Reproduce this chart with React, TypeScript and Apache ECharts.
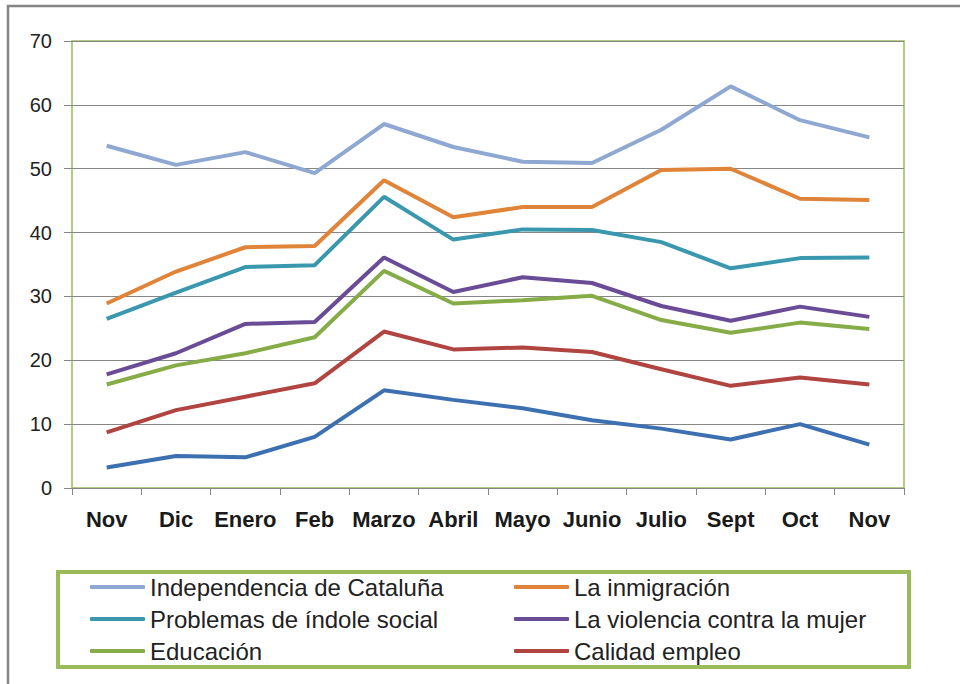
import React, { useEffect, useRef } from "react";
import * as echarts from "echarts";

const months = ["Nov", "Dic", "Enero", "Feb", "Marzo", "Abril", "Mayo", "Junio", "Julio", "Sept", "Oct", "Nov"];

const independencia = [53.6, 50.6, 52.6, 49.3, 57.0, 53.4, 51.1, 50.9, 56.1, 62.9, 57.6, 54.9];
const inmigracion = [28.9, 33.9, 37.7, 37.9, 48.2, 42.4, 44.0, 44.0, 49.8, 50.0, 45.3, 45.1];
const problemas = [26.5, 30.6, 34.6, 34.9, 45.6, 38.9, 40.5, 40.4, 38.5, 34.4, 36.0, 36.1];
const violencia = [17.8, 21.1, 25.7, 26.0, 36.1, 30.7, 33.0, 32.1, 28.5, 26.2, 28.4, 26.8];
const educacion = [16.2, 19.2, 21.1, 23.6, 34.0, 28.9, 29.4, 30.1, 26.3, 24.3, 25.9, 24.9];
const calidad = [8.7, 12.2, 14.3, 16.4, 24.5, 21.7, 22.0, 21.3, 18.6, 16.0, 17.3, 16.2];
const otros = [3.2, 5.0, 4.8, 8.0, 15.3, 13.8, 12.5, 10.6, 9.3, 7.6, 10.0, 6.8];

const FONT = "'Liberation Sans', Arial, sans-serif";

export default function App() {
  const ref = useRef<HTMLDivElement>(null);
  useEffect(() => {
    if (!ref.current) return;
    const chart = echarts.init(ref.current, undefined, { renderer: "svg" });
    const mk = (name: string, data: number[], color: string) => ({
      name,
      type: "line",
      data,
      symbol: "none",
      showSymbol: false,
      lineStyle: { width: 4, color },
      itemStyle: { color },
      z: 3,
    });
    const legendCommon = {
      orient: "vertical",
      top: 575,
      padding: 0,
      itemWidth: 55,
      itemHeight: 4,
      itemGap: 8,
      icon: "roundRect",
      textStyle: { fontFamily: FONT, fontSize: 24, color: "#222", lineHeight: 24, padding: [0, 0, 0, 0] },
    };
    chart.setOption({
      animation: false,
      backgroundColor: "#fff",
      grid: {
        left: 72,
        top: 41,
        right: 56,
        bottom: 196,
        show: true,
        borderColor: "#9BBB59",
        borderWidth: 1.5,
        containLabel: false,
      },
      xAxis: {
        type: "category",
        data: months,
        boundaryGap: true,
        axisLine: { show: true, lineStyle: { color: "#868686", width: 1 } },
        axisTick: { show: true, length: 7, lineStyle: { color: "#868686" } },
        axisLabel: { fontFamily: FONT, fontSize: 22, fontWeight: "bold", color: "#1a1a1a", margin: 20, interval: 0 },
      },
      yAxis: {
        type: "value",
        min: 0,
        max: 70,
        interval: 10,
        axisLine: { show: false },
        axisTick: { show: true, length: 8, lineStyle: { color: "#868686" } },
        axisLabel: { fontFamily: FONT, fontSize: 20, color: "#222", margin: 20 },
        splitLine: { lineStyle: { color: "#868686", width: 1 } },
      },
      legend: [
        { ...legendCommon, left: 90, data: ["Independencia de Cataluña", "Problemas de índole social", "Educación"] },
        { ...legendCommon, left: 514, data: ["La inmigración", "La violencia contra la mujer", "Calidad empleo"] },
      ],
      graphic: [
        {
          type: "rect",
          shape: { x: 8, y: 6, width: 1200, height: 1000 },
          style: { fill: "none", stroke: "#858585", lineWidth: 2.5 },
          silent: true,
        },
        {
          type: "rect",
          shape: { x: 58, y: 572, width: 851, height: 95 },
          style: { fill: "none", stroke: "#9BBB59", lineWidth: 4 },
          silent: true,
        },
      ],
      series: [
        mk("Independencia de Cataluña", independencia, "#8EA8D2"),
        mk("La inmigración", inmigracion, "#E0843A"),
        mk("Problemas de índole social", problemas, "#3A98AE"),
        mk("La violencia contra la mujer", violencia, "#6A4C96"),
        mk("Educación", educacion, "#86AC48"),
        mk("Calidad empleo", calidad, "#B04440"),
        mk("Otros", otros, "#3D70B0"),
      ],
    });
    return () => chart.dispose();
  }, []);
  return <div ref={ref} style={{ position: "absolute", left: 0, top: 0, width: 960, height: 684 }} />;
}
